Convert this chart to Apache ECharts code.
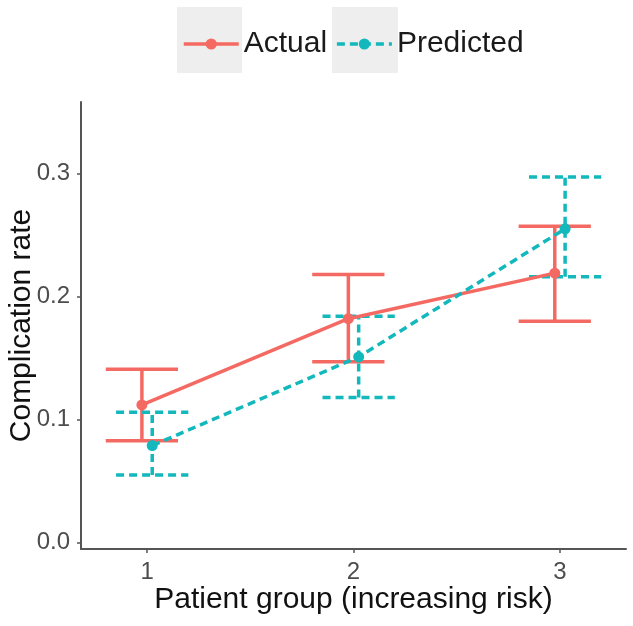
<!DOCTYPE html>
<html>
<head>
<meta charset="utf-8">
<script src="https://cdn.jsdelivr.net/npm/echarts@6/dist/echarts.min.js"></script>
<style>html,body{margin:0;padding:0;background:#fff}#c{width:633px;height:626px}</style>
</head>
<body>
<div id="c"></div>
<script>
const groups = [1, 2, 3];
const xTicks = [1, 2, 3];
const yTicks = [0, 0.1, 0.2, 0.3];
const actualMean = [0.112, 0.182, 0.219];
const actualLow = [0.083, 0.147, 0.180];
const actualHigh = [0.141, 0.218, 0.257];
const predictedMean = [0.079, 0.151, 0.255];
const predictedLow = [0.055, 0.118, 0.216];
const predictedHigh = [0.106, 0.184, 0.297];

const RED = '#F46A62', TEAL = '#12B8BC';
const DODGE = 0.025, CAP = 0.175;
const LW = 3.5;
const DASH = [8, 5];
const FONT = '"Liberation Sans", Arial, sans-serif';

const actualPts = groups.map((g, i) => [g - DODGE, actualMean[i]]);
const predictedPts = groups.map((g, i) => [g + DODGE, predictedMean[i]]);
const actualErr = groups.map((g, i) => [g - DODGE, actualLow[i], actualHigh[i]]);
const predictedErr = groups.map((g, i) => [g + DODGE, predictedLow[i], predictedHigh[i]]);

function errRender(color, dash) {
  return function (params, api) {
    const x = api.value(0), lo = api.value(1), hi = api.value(2);
    const pl = api.coord([x, lo]), ph = api.coord([x, hi]);
    const half = api.size([CAP, 0])[0];
    const style = { stroke: color, lineWidth: LW, fill: null, lineDash: dash };
    return {
      type: 'group',
      children: [
        { type: 'line', shape: { x1: pl[0], y1: pl[1], x2: ph[0], y2: ph[1] }, style: style },
        { type: 'line', shape: { x1: pl[0] - half, y1: pl[1], x2: pl[0] + half, y2: pl[1] }, style: style },
        { type: 'line', shape: { x1: ph[0] - half, y1: ph[1], x2: ph[0] + half, y2: ph[1] }, style: style }
      ]
    };
  };
}

const chart = echarts.init(document.getElementById('c'), null, { renderer: 'canvas' });
chart.setOption({
  animation: false,
  backgroundColor: '#fff',
  textStyle: { fontFamily: FONT },
  graphic: [
    { type: 'rect', left: 177, top: 7, shape: { width: 65, height: 66 }, style: { fill: '#EEEEEE' }, z: -10 },
    { type: 'rect', left: 332, top: 7, shape: { width: 66, height: 66 }, style: { fill: '#EEEEEE' }, z: -10 }
  ],
  legend: {
    data: ['Actual', 'Predicted'],
    left: 182,
    top: 29,
    padding: 0,
    itemWidth: 55,
    itemHeight: 14,
    itemGap: 8,
    lineStyle: { width: LW },
    textStyle: { fontSize: 30, color: '#1a1a1a', fontFamily: FONT, padding: [0, 0, 0, 0] }
  },
  grid: { left: 81, right: 7, top: 102, bottom: 77, outerBoundsMode: 'none', containLabel: false },
  xAxis: {
    type: 'value',
    min: 0.68,
    max: 3.32,
    name: 'Patient group (increasing risk)',
    nameLocation: 'middle',
    nameGap: 36,
    nameMoveOverlap: false,
    nameTextStyle: { fontSize: 30, color: '#111', fontFamily: FONT },
    splitLine: { show: false },
    axisLine: { show: true, onZero: false, lineStyle: { color: '#555', width: 2 } },
    axisTick: { show: true, length: 4, lineStyle: { color: '#555', width: 1.5 }, customValues: xTicks },
    axisLabel: { fontSize: 24, color: '#4D4D4D', margin: 11, customValues: xTicks, fontFamily: FONT }
  },
  yAxis: {
    type: 'value',
    min: -0.005,
    max: 0.358,
    name: 'Complication rate',
    nameLocation: 'middle',
    nameGap: 44,
    nameMoveOverlap: false,
    nameRotate: 90,
    nameTextStyle: { fontSize: 30, color: '#111', fontFamily: FONT },
    splitLine: { show: false },
    axisLine: { show: true, onZero: false, lineStyle: { color: '#555', width: 2 } },
    axisTick: { show: true, length: 4, lineStyle: { color: '#555', width: 1.5 }, customValues: yTicks },
    axisLabel: { fontSize: 24, color: '#4D4D4D', margin: 11, customValues: yTicks, fontFamily: FONT,
      formatter: v => v.toFixed(1) }
  },
  series: [
    { name: 'ActualErr', type: 'custom', renderItem: errRender(RED, null), data: actualErr, z: 2, silent: true },
    { name: 'PredictedErr', type: 'custom', renderItem: errRender(TEAL, DASH), data: predictedErr, z: 3, silent: true },
    { name: 'Actual', type: 'line', data: actualPts, symbol: 'circle', symbolSize: 11,
      lineStyle: { color: RED, width: LW }, itemStyle: { color: RED }, z: 4 },
    { name: 'Predicted', type: 'line', data: predictedPts, symbol: 'circle', symbolSize: 11,
      lineStyle: { color: TEAL, width: LW, type: DASH }, itemStyle: { color: TEAL }, z: 5 }
  ]
});
</script>
</body>
</html>
